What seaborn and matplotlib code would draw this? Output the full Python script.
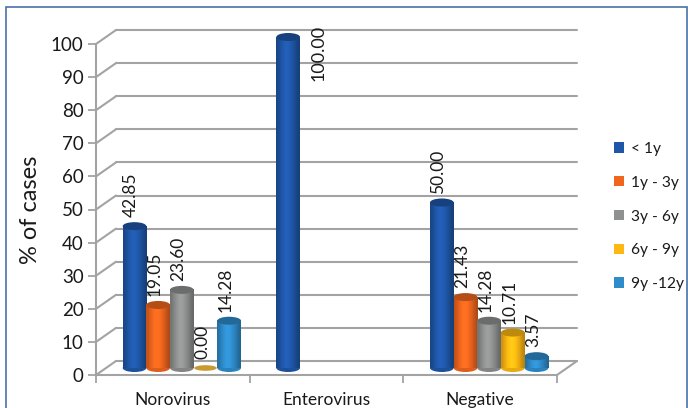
#!/usr/bin/env python
# encoding: utf-8
"""
% of cases per virus and age group, drawn as fake 3D cylinders
"""

import numpy as np
import pandas as pd
import matplotlib
matplotlib.use("Agg")
import matplotlib.pyplot as plt
from matplotlib.colors import to_rgb
from matplotlib.patches import Ellipse, Patch, Rectangle
from matplotlib.transforms import ScaledTranslation
import seaborn as sns

sns.set_style("white")
plt.rcParams['font.family'] = ['Lato', 'DejaVu Sans']

groups = ["Norovirus", "Enterovirus", "Negative"]
ages = ["< 1y", "1y - 3y", "3y - 6y", "6y - 9y", "9y -12y"]
under_1y = [42.85, 100.00, 50.00]
y1_3 = [19.05, np.nan, 21.43]
y3_6 = [23.60, np.nan, 14.28]
y6_9 = [0.00, np.nan, 10.71]
y9_12 = [14.28, np.nan, 3.57]
colors = ["#1f57a8", "#f0661e", "#8f9090", "#fdb813", "#2f8ccb"]
text_color = "#1a1a1a"
grid_color = "#a3a3a3"

rows = []
for age, values in zip(ages, [under_1y, y1_3, y3_6, y6_9, y9_12]):
    for group, value in zip(groups, values):
        rows.append({"group": group, "age": age, "value": value})
df = pd.DataFrame(rows)

W, H = 688, 408
fig = plt.figure(figsize=(W / 100, H / 100), dpi=100)
ax = fig.add_axes([96 / W, 1 - 375 / H, 461 / W, 331 / H])
ax.patch.set_alpha(0)


def shifted(dx, dy):
    # offset in pixels from the front plane of the chart
    return ax.transData + ScaledTranslation(dx / 100, dy / 100, fig.dpi_scale_trans)


sns.barplot(data=df, x="group", y="value", hue="age", order=groups, hue_order=ages,
            palette=colors, width=0.77, gap=0, saturation=1, legend=False, ax=ax)
ax.set_xlim(-0.5, 2.5)
ax.set_ylim(0, 100)

# back wall, floor and side lines
back = shifted(20, 14)
for v in range(0, 101, 10):
    ax.plot([-0.5, 2.5], [v, v], transform=back, color=grid_color, lw=1.5,
            clip_on=False, zorder=1)
    ax.plot([-0.5, -0.5 + 20 / (461 / 3)], [v, v + 14 / 3.31], color=grid_color, lw=1.5,
            clip_on=False, zorder=1)
ax.plot([2.5, 2.5 + 20 / (461 / 3)], [0, 14 / 3.31], color=grid_color, lw=1.5,
        clip_on=False, zorder=1)

# turn every flat bar into a shaded cylinder
bar_shift = shifted(9, 7)
cap_h = 8 / 3.31
ramp = np.array([0.8, 0.9, 1.0, 1.08, 1.12, 1.08, 1.0, 0.92, 0.82, 0.72])
z = 3
for container, color in zip(ax.containers, colors):
    base = np.array(to_rgb(color))
    for bar in container:
        h = bar.get_height()
        if np.isnan(h):
            continue
        bar.set_visible(False)
        x0, w = bar.get_x(), bar.get_width()
        cx = x0 + w / 2
        z += 1
        if h > 0:
            img = np.clip(base[None, None, :] * ramp[None, :, None], 0, 1)
            ax.imshow(img, extent=(x0, x0 + w, 0, h), aspect="auto", interpolation="bicubic",
                      transform=bar_shift, zorder=z, clip_on=False)
            ax.add_patch(Ellipse((cx, 0), w, cap_h, facecolor=base * 0.92, edgecolor="none",
                                 transform=bar_shift, zorder=z - 0.5, clip_on=False))
            ax.add_patch(Ellipse((cx, h), w, cap_h, facecolor=base * 0.75, edgecolor="none",
                                 transform=bar_shift, zorder=z + 0.5, clip_on=False))
        else:
            ax.add_patch(Ellipse((cx, 0), w * 0.95, cap_h * 0.7, facecolor="#c99a2e",
                                 edgecolor="none", transform=bar_shift, zorder=z, clip_on=False))
        if h == 100:
            ax.annotate(f"{h:.2f}", (cx, h), xytext=(28, 14), textcoords="offset points",
                        rotation=90, ha="center", va="top", fontsize=13,
                        color=text_color, annotation_clip=False, zorder=50)
        else:
            ax.annotate(f"{h:.2f}", (cx, h), xytext=(4, 11.5), textcoords="offset points",
                        rotation=90, ha="center", va="bottom", fontsize=12.5,
                        color=text_color, annotation_clip=False, zorder=50)
ax.set_xlim(-0.5, 2.5)
ax.set_ylim(0, 100)

# axes
for side in ["top", "right"]:
    ax.spines[side].set_visible(False)
for side in ["left", "bottom"]:
    ax.spines[side].set_color(grid_color)
    ax.spines[side].set_linewidth(1.5)
    ax.spines[side].set_zorder(2)
ax.set_yticks(range(0, 101, 10))
ax.set_xticks([-0.5, 0.5, 1.5, 2.5], minor=True)
ax.set_xticks(range(3))
ax.set_xticklabels(groups)
ax.tick_params(axis="y", which="major", left=True, length=6, width=1.3, color=grid_color,
               labelsize=13.5, labelcolor=text_color, pad=3)
ax.tick_params(axis="x", which="major", bottom=False, length=0, labelsize=12.5,
               labelcolor=text_color, pad=12)
ax.tick_params(axis="x", which="minor", bottom=True, length=6, width=1.3, color=grid_color)
ax.set_xlabel("")
ax.set_ylabel("% of cases", fontsize=17, color=text_color, labelpad=7)

handles = [Patch(facecolor=c, edgecolor="none", label=a) for a, c in zip(ages, colors)]
fig.legend(handles=handles, loc="upper left", bbox_to_anchor=(614 / W, 1 - 142 / H),
           frameon=False, fontsize=11.2, labelcolor=text_color, handlelength=0.65,
           handleheight=0.65, handletextpad=0.45, labelspacing=1.27, borderpad=0,
           borderaxespad=0)

# blue frame of the picture, cut at the bottom
fig.add_artist(Rectangle((5.5 / W, -0.05), (W - 7) / W, 1.05 - 7.5 / H, transform=fig.transFigure,
                         fill=False, edgecolor="#4a6fa5", lw=1.2))

fig.savefig("out.png", dpi=100)
